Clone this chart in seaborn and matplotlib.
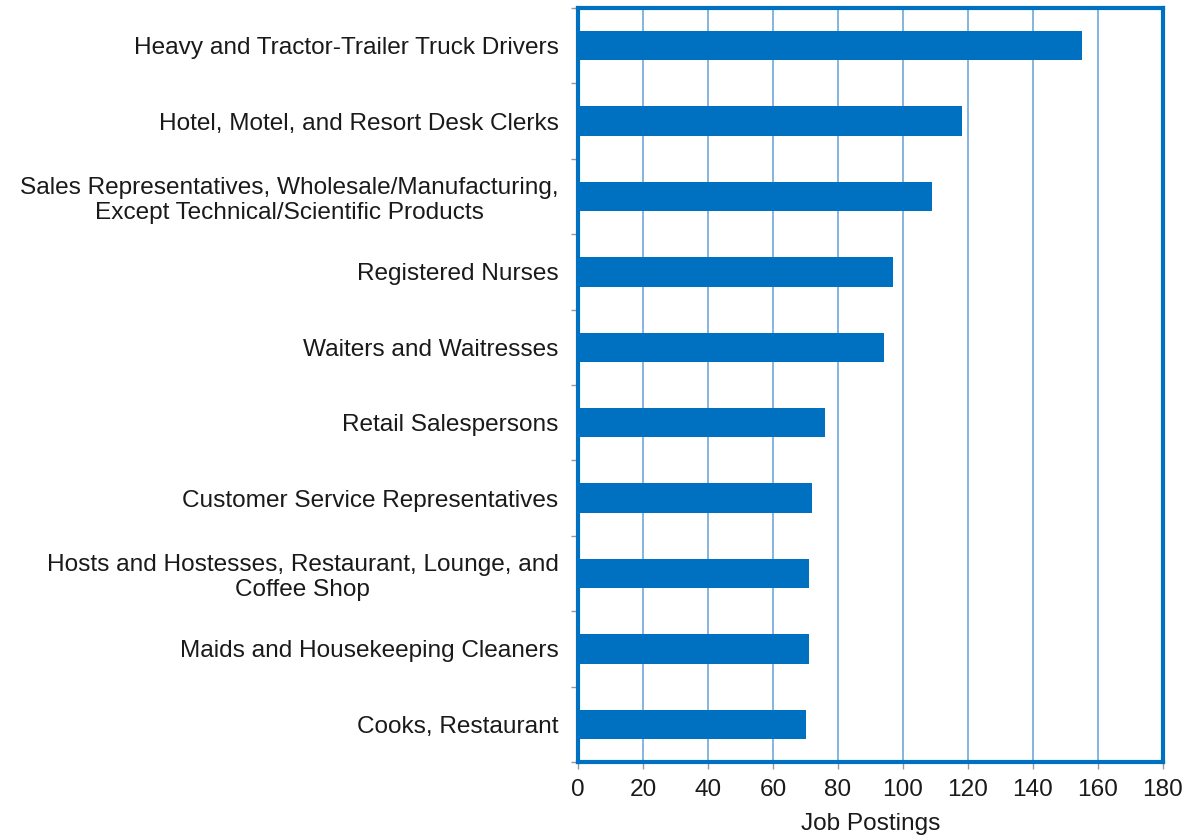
import matplotlib
matplotlib.use("Agg")
import matplotlib.pyplot as plt
import seaborn as sns
import pandas as pd
import numpy as np
from matplotlib.ticker import FixedLocator, NullFormatter

occupations = [
    "Heavy and Tractor-Trailer Truck Drivers",
    "Hotel, Motel, and Resort Desk Clerks",
    "Sales Representatives, Wholesale/Manufacturing,\nExcept Technical/Scientific Products",
    "Registered Nurses",
    "Waiters and Waitresses",
    "Retail Salespersons",
    "Customer Service Representatives",
    "Hosts and Hostesses, Restaurant, Lounge, and\nCoffee Shop",
    "Maids and Housekeeping Cleaners",
    "Cooks, Restaurant",
]
job_postings = [155, 118, 109, 97, 94, 76, 72, 71, 71, 70]
x_ticks = [0, 20, 40, 60, 80, 100, 120, 140, 160, 180]
x_label = "Job Postings"

sns.set_theme(style="white")
plt.rcParams['font.family'] = ['Liberation Sans', 'DejaVu Sans']

BLUE = "#0070C0"
GRID = "#6FA8DC"
TEXT = "#1a1a1a"
FS = 17.6

df = pd.DataFrame({"occupation": occupations, "postings": job_postings})

fig = plt.figure(figsize=(11.88, 8.4), dpi=100)
ax = fig.add_axes([578/1188, 1 - 762/840, (1163-578)/1188, (762-8)/840])

sns.barplot(data=df, y="occupation", x="postings", orient="h", color=BLUE,
            saturation=1, width=0.39, linewidth=0, ax=ax, zorder=3)

ax.set_xlim(0, 180)
ax.set_ylim(len(occupations) - 0.5, -0.5)
ax.set_xticks(x_ticks)
ax.set_xticklabels([str(t) for t in x_ticks], fontsize=FS, color=TEXT)
ax.xaxis.grid(True, color=GRID, linewidth=1.2, zorder=0)
ax.yaxis.grid(False)
ax.set_axisbelow(True)

ax.set_yticks(range(len(occupations)))
ax.set_yticklabels(occupations, fontsize=FS, color=TEXT, multialignment="center")
ax.tick_params(axis="y", which="major", length=0, pad=14)
ax.yaxis.set_minor_locator(FixedLocator(np.arange(-0.5, len(occupations), 1.0)))
ax.yaxis.set_minor_formatter(NullFormatter())
ax.tick_params(axis="y", which="minor", length=5, width=1, color="#999999", left=True)
ax.tick_params(axis="x", which="major", length=5, width=1, color="#999999", bottom=True, pad=7)

ax.set_xlabel(x_label, fontsize=FS, color=TEXT, labelpad=9)
ax.set_ylabel("")

for side in ["left", "right", "top", "bottom"]:
    ax.spines[side].set_visible(True)
    ax.spines[side].set_color(BLUE)
    ax.spines[side].set_linewidth(3)

fig.savefig("out.png", dpi=100, facecolor="white")
